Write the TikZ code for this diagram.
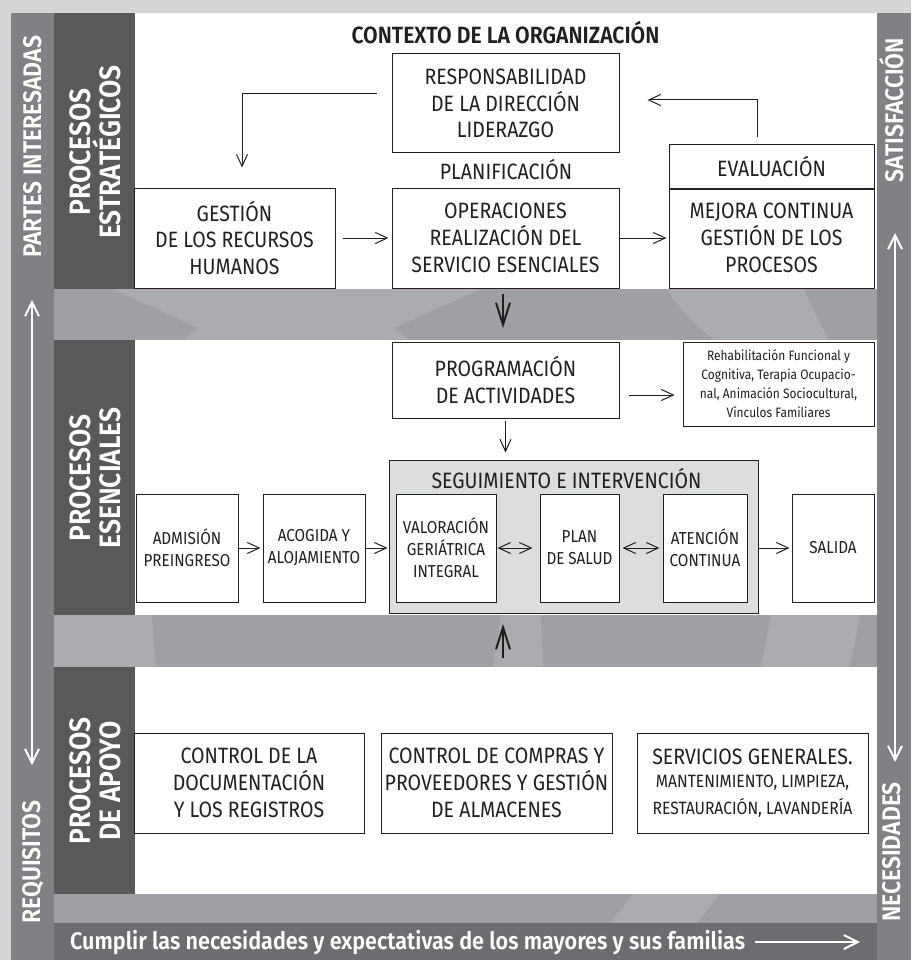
\documentclass[tikz,border=0pt]{standalone}
\usepackage{fontspec}
\setmainfont{Fira Sans}[BoldFont=* SemiBold, FakeStretch=0.88]
\newfontfamily\labfont{Fira Sans}[UprightFont=* SemiBold, FakeStretch=0.9]
\usetikzlibrary{arrows.meta}

\definecolor{bggray}{HTML}{D4D5D7}
\definecolor{sidegray}{HTML}{808185}
\definecolor{darkcol}{HTML}{58595B}
\definecolor{bandgray}{HTML}{9FA0A4}
\definecolor{bandlight}{HTML}{ABACAF}
\definecolor{footgray}{HTML}{6C6D71}
\definecolor{seggray}{HTML}{DCDDDF}
\definecolor{ink}{HTML}{231F20}

\tikzset{
  box/.style={draw=ink, line width=1pt, fill=white, text=ink, align=center,
    inner sep=0pt, font=\fontsize{22.2}{26.7}\selectfont},
  smallbox/.style={box, font=\fontsize{17.3}{22}\selectfont},
  plain/.style={text=ink, inner sep=0pt, font=\fontsize{22.2}{26.7}\selectfont},
  sidelab/.style={rotate=90, text=white, inner sep=0pt, font=\labfont\fontsize{25.5}{28}\selectfont},
  collab/.style={rotate=90, text=white, align=center, inner sep=0pt,
    font=\labfont\fontsize{29.5}{30}\selectfont},
  arr/.style={draw=ink, line width=1pt, -{Straight Barb[length=12pt,width=11pt]}},
  darr/.style={arr, {Straight Barb[length=12pt,width=11pt]}-{Straight Barb[length=12pt,width=11pt]}},
  bandarr/.style={draw=ink, line width=2pt, -{Straight Barb[length=22pt,width=14pt]}},
  whitearr/.style={draw=white, line width=2pt, {Straight Barb[length=14pt,width=14pt]}-{Straight Barb[length=14pt,width=14pt]}}
}

\begin{document}
\begin{tikzpicture}[x=1pt, y=-1pt]
  % background and frames
  \fill[bggray] (0,0) rectangle (911,960);
  \fill[sidegray] (11,13) rectangle (54,960);
  \fill[sidegray] (877,13) rectangle (911,960);
  \fill[bandlight] (54,289) rectangle (877,340);
  \fill[bandgray] (481,289) -- (394,328) -- (410,340) -- (714,340) to[bend left=8] (666,289) -- cycle;
  \fill[bandgray] (804,289) -- (877,289) -- (877,340) -- (828,340) -- cycle;
  \fill[bandgray] (54,289) -- (113,289) -- (198,328) -- (183,340) -- (54,340) -- cycle;
  \fill[bandgray] (54,615) rectangle (877,667);
  \fill[bandlight] (54,615) -- (152,615) -- (156,667) -- (54,667) -- cycle;
  \fill[bandlight] (501,615) -- (541,615) -- (543,667) -- (493,667) -- cycle;
  \fill[bandlight] (771,615) -- (860,615) -- (850,667) -- (761,667) -- cycle;
  \fill[bandgray] (54,894) rectangle (877,923);
  \fill[bandlight] (633,894) -- (720,894) -- (697,923) -- (610,923) -- cycle;
  \fill[footgray] (54,923) rectangle (877,960);
  \fill[white] (135,13) rectangle (877,289);
  \fill[white] (135,340) rectangle (877,615);
  \fill[white] (135,667) rectangle (877,894);
  \fill[darkcol] (54,13) rectangle (135,289);
  \fill[darkcol] (54,340) rectangle (135,615);
  \fill[darkcol] (54,667) rectangle (135,894);

  % side labels
  \node[sidelab] (partes) at (33,147) {PARTES INTERESADAS};
  \node[sidelab] (requi) at (33,862) {REQUISITOS};
  \node[sidelab] (satis) at (892,110) {SATISFACCIÓN};
  \node[sidelab] (neces) at (892,852) {NECESIDADES};
  \node[collab] (estrat) at (95,152) {PROCESOS\\ESTRATÉGICOS};
  \node[collab] (esenc) at (95,478) {PROCESOS\\ESENCIALES};
  \node[collab] (apoyo) at (95,781) {PROCESOS\\DE APOYO};

  % procesos estrategicos
  \node[plain, font=\labfont\fontsize{23.5}{26}\selectfont] (contexto) at (505.5,33) {CONTEXTO DE LA ORGANIZACIÓN};
  \node[box, minimum width=227, minimum height=99] (resp) at (505.5,103.5) {RESPONSABILIDAD\\DE LA DIRECCIÓN\\LIDERAZGO};
  \node[plain] (planif) at (506,170) {PLANIFICACIÓN};
  \node[box, minimum width=201, minimum height=100] (gest) at (234.5,238) {GESTIÓN\\DE LOS RECURSOS\\HUMANOS};
  \node[box, minimum width=227, minimum height=100] (oper) at (505.5,238) {OPERACIONES\\REALIZACIÓN DEL\\SERVICIO ESENCIALES};
  \node[box, minimum width=205, minimum height=43] (eval) at (771.5,166.5) {EVALUACIÓN};
  \node[box, minimum width=205, minimum height=100] (mejora) at (771.5,238) {MEJORA CONTINUA\\GESTIÓN DE LOS\\PROCESOS};
  \draw[ink, line width=2pt] (eval.south west) -- (eval.south east);

  \draw[arr] ([xshift=-15pt,yshift=9.5pt]resp.west) -| ([xshift=7.5pt,yshift=20pt]gest.north);
  \draw[arr] ([xshift=-14.5pt,yshift=7pt]eval.north) |- ([xshift=28pt,yshift=3.5pt]resp.east);
  \draw[arr, shorten <=7pt, shorten >=3pt] (gest) -- (oper);
  \draw[arr, shorten >=2pt] (oper) -- (mejora);

  % procesos esenciales
  \node[box, minimum width=227, minimum height=76] (prog) at (505.5,380) {PROGRAMACIÓN\\DE ACTIVIDADES};
  \node[box, minimum width=191, minimum height=84, font=\fontsize{13.6}{19}\selectfont] (rehab) at (778.5,384)
    {Rehabilitación Funcional y\\Cognitiva, Terapia Ocupacio-\\nal, Animación Sociocultural,\\Vínculos Familiares};
  \node[box, fill=seggray, minimum width=369, minimum height=153] (seg) at (573.5,536.5) {};
  \node[plain] (segtit) at (566.5,479) {SEGUIMIENTO E INTERVENCIÓN};
  \node[smallbox, minimum width=102, minimum height=108] (adm) at (187,548) {ADMISIÓN\\PREINGRESO};
  \node[smallbox, minimum width=102, minimum height=108] (acog) at (314,548) {ACOGIDA Y\\ALOJAMIENTO};
  \node[smallbox, minimum width=100, minimum height=108] (val) at (446,548) {VALORACIÓN\\GERIÁTRICA\\INTEGRAL};
  \node[smallbox, minimum width=79, minimum height=108] (plan) at (579.5,548) {PLAN\\DE SALUD};
  \node[smallbox, minimum width=84, minimum height=108] (aten) at (705,548) {ATENCIÓN\\CONTINUA};
  \node[smallbox, minimum width=82, minimum height=108] (sal) at (833,548) {SALIDA};

  \coordinate (pr) at ([xshift=9pt,yshift=-15pt]prog.east);
  \draw[arr, shorten >=8pt] (pr) -- (pr -| rehab.west);
  \draw[arr, shorten <=2pt, shorten >=7pt] (prog.south) -- (prog.south |- seg.north);
  \draw[arr, shorten >=2pt] (adm) -- (acog);
  \draw[arr, shorten >=1pt] (acog.east) -- (acog.east -| seg.west);
  \draw[darr, shorten >=7pt, shorten <=1pt] (val) -- (plan);
  \draw[darr, shorten >=3pt, shorten <=3pt] (plan) -- (aten);
  \draw[arr, shorten >=2pt] (seg.east |- sal.west) -- (sal.west);

  \coordinate (dnA) at (503,294);
  \coordinate (dnB) at (503,328);
  \coordinate (upA) at (503,658);
  \coordinate (upB) at (503,624);
  \draw[bandarr] (dnA) -- (dnB);
  \draw[bandarr] (upA) -- (upB);

  % procesos de apoyo
  \node[box, minimum width=230, minimum height=100] (doc) at (249,783) {CONTROL DE LA\\DOCUMENTACIÓN\\Y LOS REGISTROS};
  \node[box, minimum width=231, minimum height=100] (comp) at (496.5,783) {CONTROL DE COMPRAS Y\\PROVEEDORES Y GESTIÓN\\DE ALMACENES};
  \node[box, minimum width=231, minimum height=100] (serv) at (752.5,783)
    {SERVICIOS GENERALES.\\[-3pt]{\fontsize{17.8}{21}\selectfont MANTENIMIENTO, LIMPIEZA,}\\{\fontsize{17.8}{21}\selectfont RESTAURACIÓN, LAVANDERÍA}};

  % flechas laterales y pie
  \coordinate (lTop) at (32,300);
  \coordinate (lBot) at (32,765);
  \coordinate (rTop) at (895,233);
  \coordinate (rBot) at (895,762);
  \draw[whitearr] (lTop) -- (lBot);
  \draw[whitearr] (rTop) -- (rBot);
  \node[anchor=west, text=white, inner sep=0pt, font=\labfont\fontsize{24}{28}\selectfont] (cumplir) at (70,942)
    {Cumplir las necesidades y expectativas de los mayores y sus familias};
  \coordinate (bB) at (860,942);
  \draw[white, line width=2pt, -{Straight Barb[length=14pt,width=14pt]}] ([xshift=10pt]cumplir.east) -- (bB);
\end{tikzpicture}
\end{document}
